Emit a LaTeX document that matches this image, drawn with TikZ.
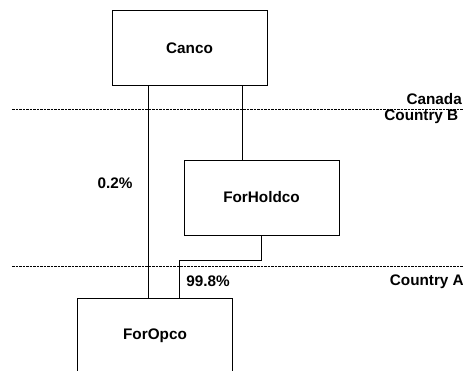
\documentclass[tikz,border=0pt]{standalone}
\usepackage{fontspec}
\setmainfont{Liberation Sans}
\begin{document}
\begin{tikzpicture}[x=1pt,y=-1pt,
  company/.style={draw, line width=0.8pt, minimum width=155pt, minimum height=75pt, inner sep=0pt, font=\fontsize{15.3}{18}\selectfont\bfseries},
  lbl/.style={inner sep=0pt, font=\fontsize{15.3}{18}\selectfont\bfseries},
  link/.style={draw, line width=0.8pt},
  border/.style={draw, line width=0.7pt, dash pattern=on 2.5pt off 1pt}]
\useasboundingbox (0,0) rectangle (463,371);
\clip (0,0) rectangle (463,371);
\node[company] (canco) at (189.5,48) {Canco};
\node[company] (forhold) at (261.5,197.5) {ForHoldco};
\node[company] (forop) at (155,336) {ForOpco};
\coordinate (bL) at (12,109.3);
\coordinate (bR) at (463,109.3);
\coordinate (aL) at (12,266.7);
\coordinate (aR) at (463,266.7);
\draw[border] (bL) -- (bR);
\draw[border] (aL) -- (aR);
\coordinate (j1) at (148,0);
\coordinate (j2) at (242,0);
\coordinate (j3) at (179,260.3);
\draw[link] (canco.south -| j1) -- (forop.north -| j1);
\draw[link] (canco.south -| j2) -- (forhold.north -| j2);
\draw[link] (forhold.south) |- (j3) -- (forop.north -| j3);
\node[lbl] (p1) at (115,183) {0.2\%};
\node[lbl] (p2) at (208,281.7) {99.8\%};
\node[lbl, anchor=east] (can) at (462,98.7) {Canada};
\node[lbl, anchor=east] (cb) at (458.5,116.7) {Country B};
\node[lbl, anchor=east] (ca) at (464,281.7) {Country A};
\end{tikzpicture}
\end{document}
